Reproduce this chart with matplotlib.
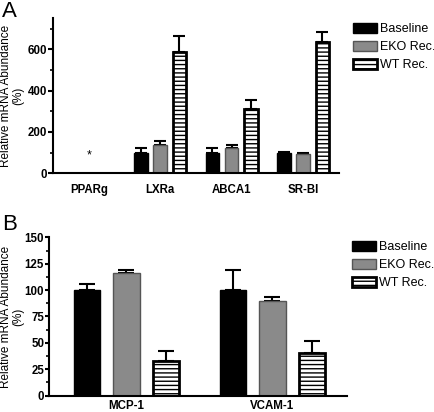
import matplotlib
matplotlib.use("Agg")
import matplotlib.pyplot as plt
import numpy as np
from matplotlib.ticker import MultipleLocator

plt.rcParams['font.family'] = ['Liberation Sans', 'DejaVu Sans']
plt.rcParams['hatch.linewidth'] = 1.0

series = ["Baseline", "EKO Rec.", "WT Rec."]

# Panel A
genes_a = ["PPARg", "LXRa", "ABCA1", "SR-BI"]
base_a = [0, 100, 100, 100]
base_a_err = [0, 24, 24, 3]
eko_a = [0, 138, 122, 94]
eko_a_err = [0, 18, 17, 3]
wt_a = [0, 589, 313, 633]
wt_a_err = [0, 74, 42, 53]
annot_a = {"PPARg": "*"}

# Panel B
genes_b = ["MCP-1", "VCAM-1"]
base_b = [100, 100]
base_b_err = [6, 19]
eko_b = [116, 90]
eko_b_err = [3, 3]
wt_b = [33, 40]
wt_b_err = [9, 12]

fig = plt.figure(figsize=(4.35, 4.12), dpi=100)

styles = [
    dict(color="black", edgecolor="black", linewidth=1.0),
    dict(color="#8a8a8a", edgecolor="#555555", linewidth=1.0),
    dict(color="white", edgecolor="black", linewidth=2.0, hatch="----"),
]

def draw(ax, genes, vals, errs, width, offset, capsize, ticklen):
    x = np.arange(len(genes))
    handles = []
    for i, (v, e) in enumerate(zip(vals, errs)):
        xi = x + (i - 1) * offset
        v = np.array(v, float)
        e = np.array(e, float)
        mask = v > 0
        b = ax.bar(xi[mask], v[mask], width=width, label=series[i], zorder=2, **styles[i])
        ax.errorbar(xi[mask], v[mask], yerr=[np.zeros(mask.sum()), e[mask]], fmt='none',
                    ecolor='black', elinewidth=1.5, capsize=capsize, capthick=1.5, zorder=1)
        handles.append(b)
    ax.set_xticks(x)
    ax.set_xticklabels(genes, fontweight='bold', fontsize=8.3)
    for s in ['top', 'right']:
        ax.spines[s].set_visible(False)
    for s in ['left', 'bottom']:
        ax.spines[s].set_linewidth(1.5)
    ax.tick_params(axis='x', length=0, pad=8)
    ax.tick_params(axis='y', which='major', length=ticklen, width=1.5, pad=0.5, labelsize=8.3)
    ax.tick_params(axis='y', which='minor', length=ticklen * 0.7, width=1.2)
    ax.set_ylabel("Relative mRNA Abundance\n(%)", fontsize=8.5, linespacing=0.95)
    return handles

legend_kw = dict(loc='upper left', frameon=False, fontsize=9,
                 handlelength=1.9, handleheight=0.85, handletextpad=0.25,
                 labelspacing=0.45, borderaxespad=0, borderpad=0)

axA = fig.add_axes([0.1218, 0.5794, 0.779 - 0.1218, 0.3762])
hA = draw(axA, genes_a, [base_a, eko_a, wt_a], [base_a_err, eko_a_err, wt_a_err], 0.19, 0.27, 4.5, 3.6)
axA.set_xlim(-0.5, 3.5)
axA.set_ylim(0, 750)
axA.yaxis.set_major_locator(MultipleLocator(200))
axA.yaxis.set_minor_locator(MultipleLocator(100))
for lab in axA.get_yticklabels():
    lab.set_fontweight('bold')
axA.yaxis.set_label_coords((24 - 53) / 286, 0.5)
for g, t in annot_a.items():
    axA.text(genes_a.index(g), 88, t, ha='center', va='center', fontsize=9)
axA.legend(handles=hA, bbox_to_anchor=(353 / 435, 1 - 23 / 412), bbox_transform=fig.transFigure, **legend_kw)
fig.text(0.005, 0.998, "A", fontsize=16, va='top', ha='left')

axB = fig.add_axes([0.1126, 0.0396, 0.7977 - 0.1126, 0.424 - 0.0396])
hB = draw(axB, genes_b, [base_b, eko_b, wt_b], [base_b_err, eko_b_err, wt_b_err], 0.18, 0.27, 5.5, 3.0)
axB.set_xlim(-0.53, 1.51)
axB.set_ylim(0, 150)
axB.yaxis.set_major_locator(MultipleLocator(25))
axB.yaxis.set_minor_locator(MultipleLocator(12.5))
for lab in axB.get_yticklabels():
    lab.set_fontweight('bold')
axB.yaxis.set_label_coords((24 - 49) / 298, 0.5)
axB.tick_params(axis='x', pad=3)
axB.legend(handles=hB, bbox_to_anchor=(352 / 435, 1 - 241 / 412), bbox_transform=fig.transFigure, **legend_kw)
fig.text(0.005, 0.48, "B", fontsize=16, va='top', ha='left')

fig.savefig("out.png", dpi=100)
